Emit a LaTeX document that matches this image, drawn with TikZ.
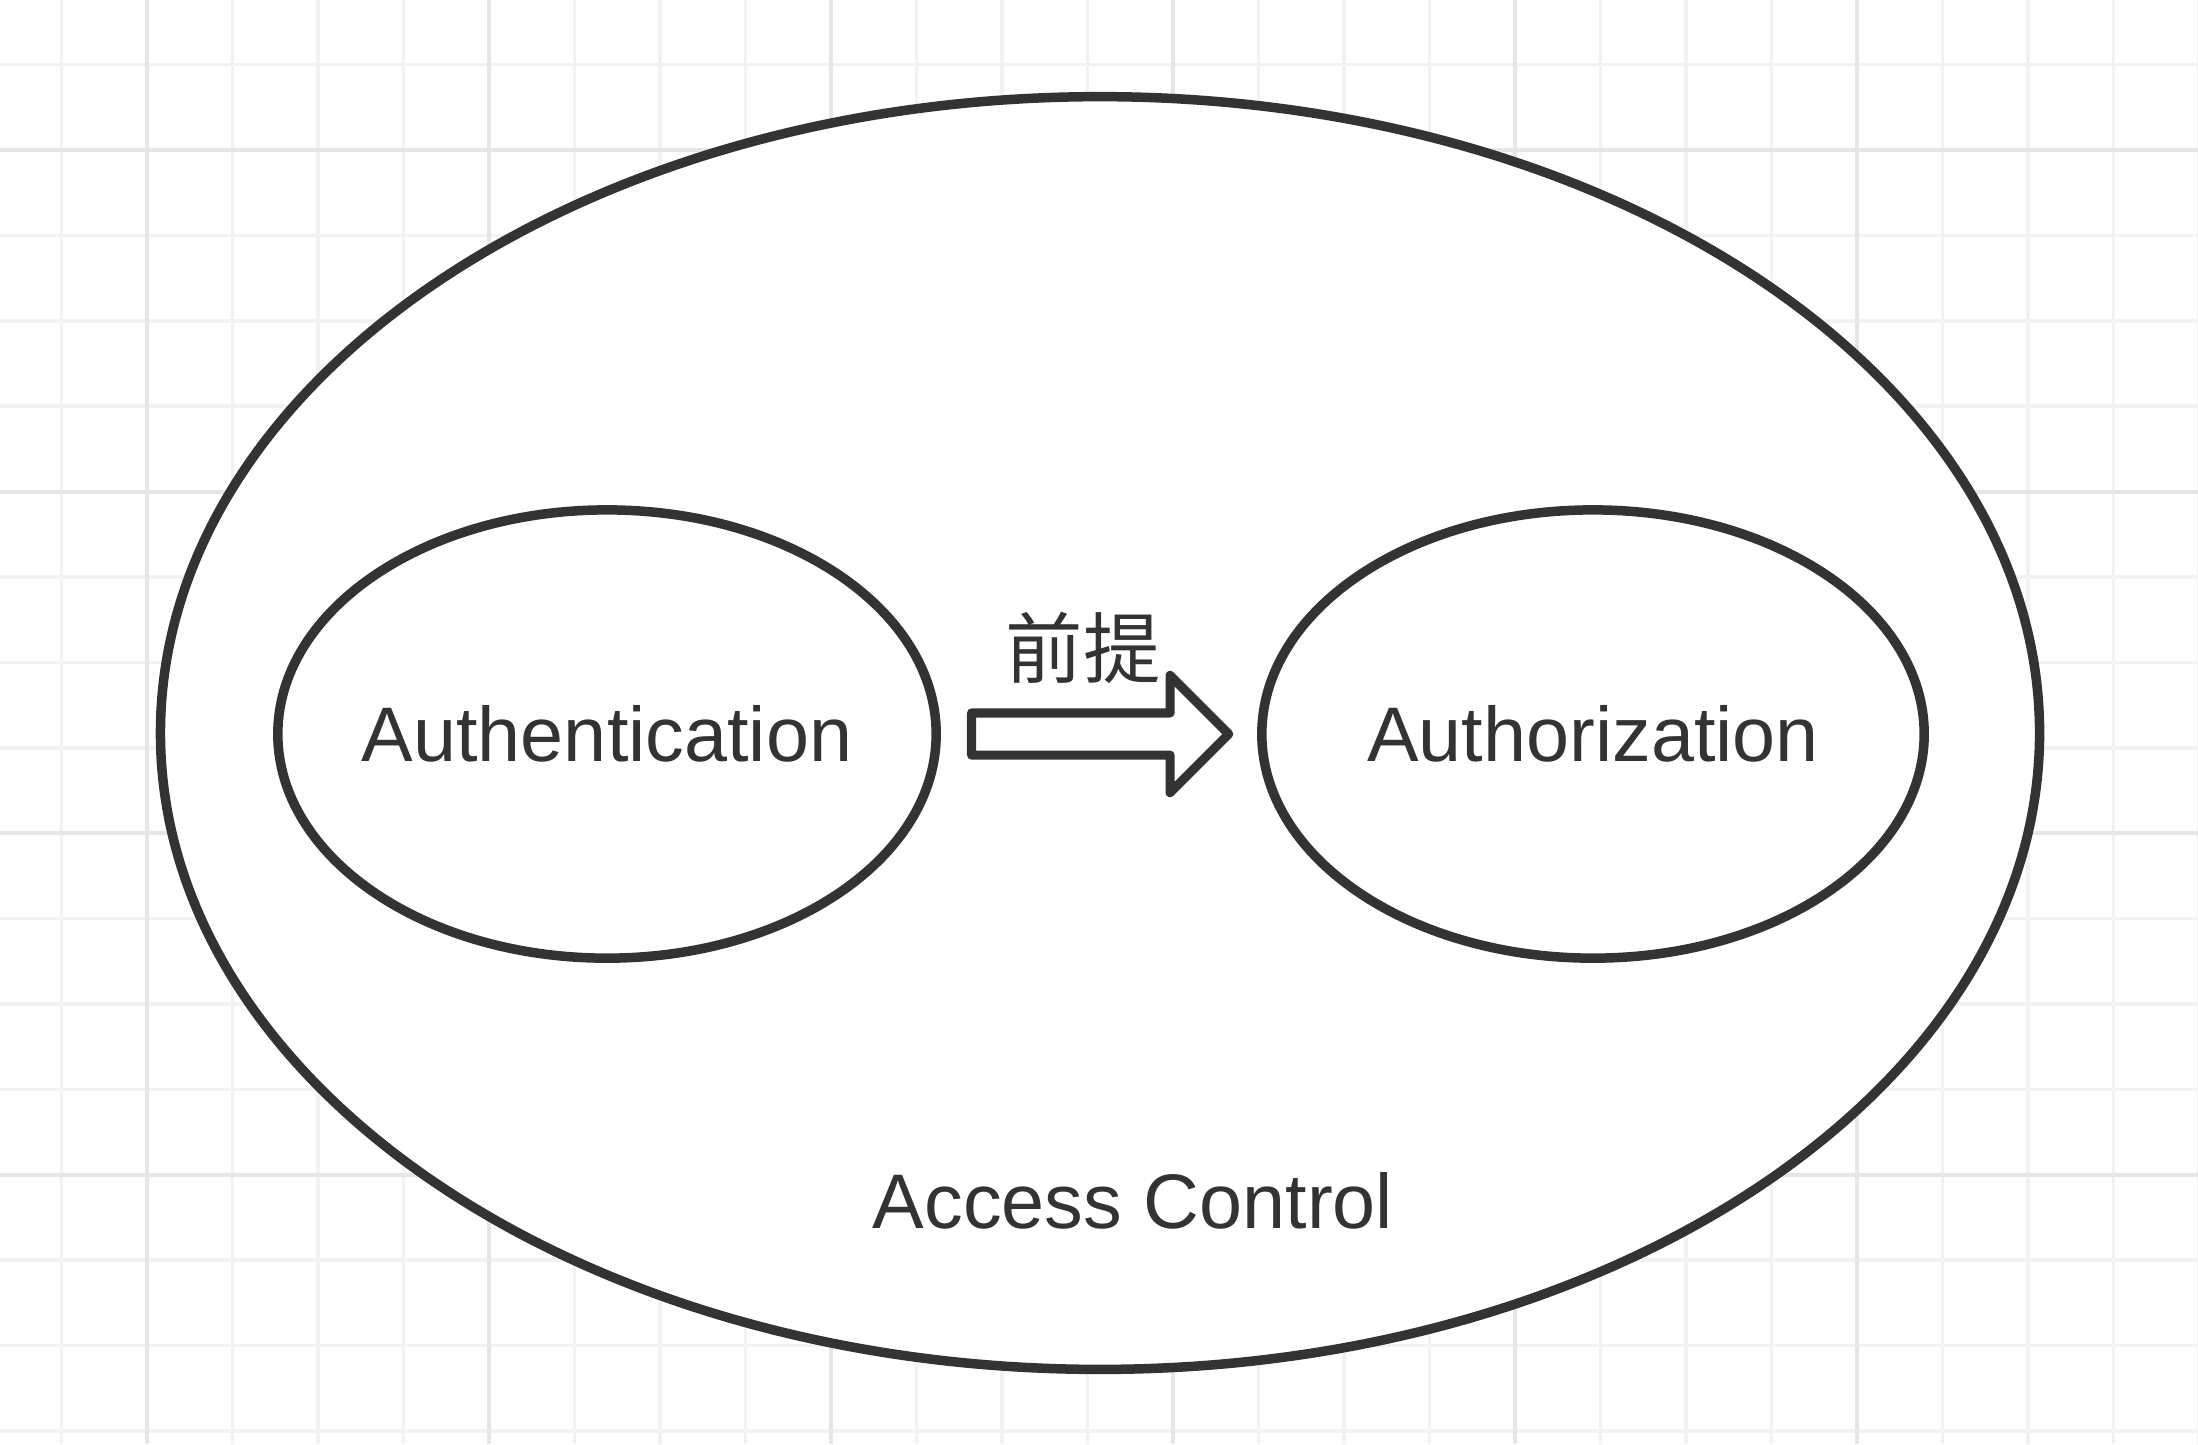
\documentclass[tikz,border=0pt]{standalone}
\usepackage{fontspec}
\setmainfont{Liberation Sans}
\newfontfamily\cjk{Noto Sans CJK SC}
\usetikzlibrary{shapes.geometric,shapes.arrows,positioning}
\definecolor{ink}{HTML}{333333}
\definecolor{gridminor}{HTML}{F2F2F2}
\definecolor{gridmajor}{HTML}{E6E6E6}

\begin{document}
\begin{tikzpicture}[
  x=0.01cm, y=-0.01cm,
  every node/.style={
    text=ink,
    font=\fontsize{22pt}{26pt}\selectfont
  },
  blob/.style={
    ellipse,
    draw=ink,
    fill=white,
    line width=2.7pt,
    inner sep=0pt
  },
  blockarrow/.style={
    single arrow,
    draw=ink,
    fill=white,
    line width=2.6pt,
    line join=round,
    inner sep=0.165cm,
    minimum height=2.57cm,
    single arrow head extend=0.375cm
  }
]
\useasboundingbox[fill=white] (0,0) rectangle (2198,1444);

% background grid
\foreach \k in {-1,...,24}
  \draw[gridminor, line width=1pt] ({147+85.5*\k},0) -- ({147+85.5*\k},1444);
\foreach \k in {-1,...,15}
  \draw[gridminor, line width=1pt] (0,{150+85.4*\k}) -- (2198,{150+85.4*\k});
\foreach \k in {0,4,...,20}
  \draw[gridmajor, line width=1.2pt] ({147+85.5*\k},0) -- ({147+85.5*\k},1444);
\foreach \k in {0,4,...,12}
  \draw[gridmajor, line width=1.2pt] (0,{150+85.4*\k}) -- (2198,{150+85.4*\k});

\node (ac) [blob, minimum width=18.78cm, minimum height=12.72cm] at (1100,733) {};
\node (authn) [blob, minimum width=6.58cm, minimum height=4.48cm,
  label=center:Authentication] at (607,734) {};
\node (authz) [blob, minimum width=6.62cm, minimum height=4.48cm,
  label=center:Authorization] at (1593,734) {};
\node (pre) [blockarrow, right=0.26cm of authn] {};
\node (prelabel) at (1083,648) {\cjk 前提};
\node (aclabel) at (1133,1201) {Access Control};
\end{tikzpicture}
\end{document}
